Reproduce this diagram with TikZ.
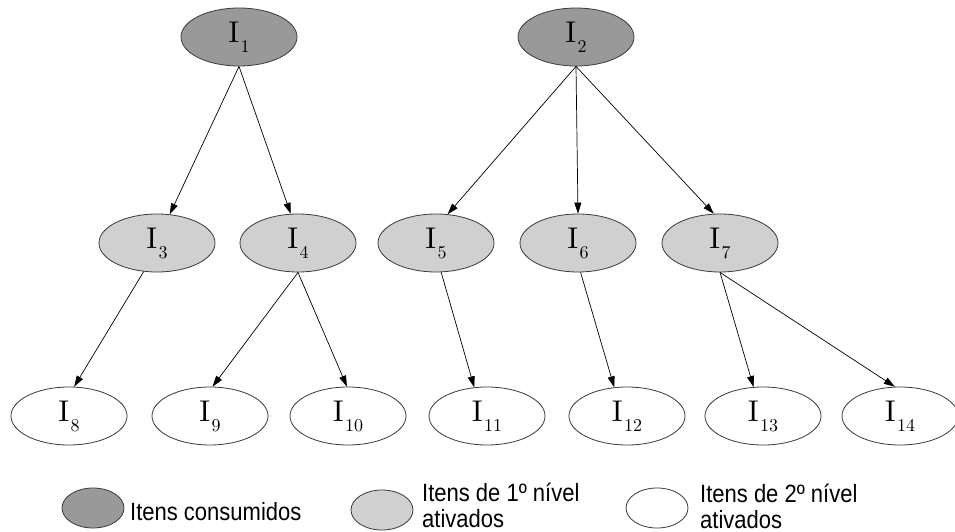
\documentclass[tikz,border=0pt]{standalone}
\usepackage{fontspec}
\usetikzlibrary{shapes.geometric,arrows.meta}
\newfontfamily\legendfont[FakeStretch=0.88]{Liberation Sans}
\newfontfamily\itemfont{lmroman10-regular}[Extension=.otf]
\definecolor{consumed}{HTML}{999999}
\definecolor{firstlvl}{HTML}{D0D0D0}
\definecolor{rim}{HTML}{3A3A3A}
% item label: a large roman I with a lowered index
\newcommand{\itm}[1]{{\itemfont\fontsize{30}{30}\selectfont I}\kern1.5pt\raisebox{-10pt}{\itemfont\fontsize{18}{18}\selectfont #1}}
\tikzset{
  item/.style={ellipse, draw=rim, line width=0.8pt, minimum width=116pt,
    minimum height=58pt, inner sep=0pt},
  used/.style={item, fill=consumed},
  lvlone/.style={item, fill=firstlvl},
  lvltwo/.style={item, fill=white},
  key/.style={ellipse, draw=rim, line width=0.8pt, minimum width=62pt,
    minimum height=40pt, inner sep=0pt},
  link/.style={draw=black, line width=0.7pt, -{Triangle[length=11pt,width=7pt]}},
  keytext/.style={anchor=base west, inner sep=0pt, align=left,
    font=\legendfont\fontsize{25}{21}\selectfont}
}
\begin{document}
\begin{tikzpicture}[x=1pt, y=-1pt]
\useasboundingbox (0,0) rectangle (955,532);

% consumed items
\node[used] (i1) at (239,37) {\itm{1}};
\node[used] (i2) at (576,37) {\itm{2}};

% first level
\node[lvlone] (i3) at (157,243) {\itm{3}};
\node[lvlone] (i4) at (298,243) {\itm{4}};
\node[lvlone] (i5) at (436,243) {\itm{5}};
\node[lvlone] (i6) at (578,243) {\itm{6}};
\node[lvlone] (i7) at (720,243) {\itm{7}};

% second level
\node[lvltwo] (i8)  at (69,416)  {\itm{8}};
\node[lvltwo] (i9)  at (210,416) {\itm{9}};
\node[lvltwo] (i10) at (348,416) {\itm{10}};
\node[lvltwo] (i11) at (487,416) {\itm{11}};
\node[lvltwo] (i12) at (627,416) {\itm{12}};
\node[lvltwo] (i13) at (763,416) {\itm{13}};
\node[lvltwo] (i14) at (900,416) {\itm{14}};

% activation links
\draw[link] (i1.south) -- (i3.66);
\draw[link] (i1.south) -- (i4.104);
\draw[link] (i2.south) -- (i5.68);
\draw[link] (i2.south) -- (i6.north);
\draw[link] (i2.south) -- (i7.102);
\draw[link] (i3.-115) -- (i8.80);
\draw[link] (i4.south) -- (i9.85);
\draw[link] (i4.south) -- (i10.92);
\draw[link] (i5.-80) -- (i11.114);
\draw[link] (i6.-85) -- (i12.114);
\draw[link] (i7.south) -- (i13.108);
\draw[link] (i7.south) -- (i14.100);

% key
\node[key, fill=consumed] (k1) at (93,508) {};
\node[key, fill=firstlvl] (k2) at (382,510) {};
\node[key, fill=white]    (k3) at (657,508) {};
\node[keytext] (t1) at (130,520) {Itens consumidos};
\node[keytext] (t2) at (422,527) {Itens de 1º nível\\[5pt]ativados};
\node[keytext] (t3) at (700,528) {Itens de 2º nível\\[5pt]ativados};
\end{tikzpicture}
\end{document}
